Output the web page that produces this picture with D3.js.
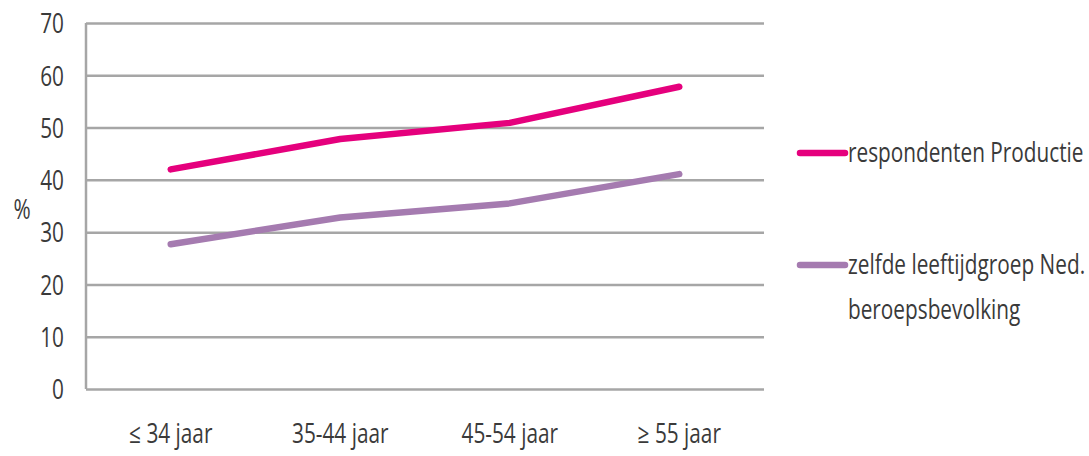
<!DOCTYPE html>
<html>
<head>
<meta charset="utf-8">
<script src="https://cdn.jsdelivr.net/npm/d3@7"></script>
<style>
  body { margin: 0; background: #fff; }
  svg text { font-family: "Open Sans", sans-serif; fill: #3a3a3a; }
</style>
</head>
<body>
<div id="chart"></div>
<script>
// data
const categories = ['\u2264 34 jaar', '35-44 jaar', '45-54 jaar', '\u2265 55 jaar'];
const productie = [42, 47.8, 50.9, 57.8];
const beroeps = [27.7, 32.8, 35.5, 41.1];
const yTicks = [0, 10, 20, 30, 40, 50, 60, 70];
const seriesNames = ['respondenten Productie', 'zelfde leeftijdgroep Ned.|beroepsbevolking'];

const width = 1089, height = 456;
const margin = {top: 23, right: 325, bottom: 67, left: 86};
const plotW = width - margin.left - margin.right;
const plotH = height - margin.top - margin.bottom;
const fontSize = 27;
const squeezeX = 0.77;

// narrow the glyphs around their anchor point (reference uses a condensed face)
function squeeze(sel) {
  sel.each(function() {
    const t = d3.select(this);
    const x = +t.attr('x') || 0, y = +t.attr('y') || 0;
    t.attr('transform', `translate(${x},${y}) scale(${squeezeX},1) translate(${-x},${-y})`);
  });
}

const svg = d3.select('#chart').append('svg')
  .attr('width', width)
  .attr('height', height);

const mainG = svg.append('g')
  .attr('transform', `translate(${margin.left},${margin.top})`);

// scales
const yScale = d3.scaleLinear().domain([0, 70]).range([plotH, 0]);
const xScale = d3.scaleBand().domain(categories).range([0, plotW]);
const xMid = d => xScale(d) + xScale.bandwidth() / 2;

// grid + y labels
const yAxis = d3.axisLeft(yScale).tickValues(yTicks).tickSize(-plotW).tickPadding(22);
const yG = mainG.append('g').call(yAxis);
yG.select('.domain').remove();
yG.selectAll('line').attr('stroke', '#a6a6a6').attr('stroke-width', 2.5);
yG.selectAll('text').attr('font-size', fontSize).attr('dy', '0.36em').call(squeeze);

// left axis line
mainG.append('line')
  .attr('x1', 0).attr('x2', 0).attr('y1', 0).attr('y2', plotH)
  .attr('stroke', '#a6a6a6').attr('stroke-width', 2.5);

// x labels
const xAxis = d3.axisBottom(xScale).tickSize(0).tickPadding(35);
const xG = mainG.append('g').attr('transform', `translate(0,${plotH})`).call(xAxis);
xG.select('.domain').remove();
xG.selectAll('text').attr('font-size', fontSize).call(squeeze);

// y title
svg.append('text')
  .attr('x', 22).attr('y', 219)
  .attr('text-anchor', 'middle')
  .attr('font-size', fontSize)
  .text('%')
  .call(squeeze);

// lines
const series = [
  {values: productie, color: '#e5007d'},
  {values: beroeps, color: '#a57bb0'}
];
const line = d3.line()
  .x((d, i) => xMid(categories[i]))
  .y(d => yScale(d));

mainG.selectAll('path.series')
  .data(series)
  .enter()
  .append('path')
  .attr('class', 'series')
  .attr('d', d => line(d.values))
  .attr('fill', 'none')
  .attr('stroke', d => d.color)
  .attr('stroke-width', 6.5)
  .attr('stroke-linecap', 'round')
  .attr('stroke-linejoin', 'round');

// legend
const legendY = [153, 265];
series.forEach((s, k) => {
  const g = svg.append('g').attr('transform', `translate(800,${legendY[k]})`);
  g.append('line')
    .attr('x1', 0).attr('x2', 45)
    .attr('stroke', s.color).attr('stroke-width', 6.5)
    .attr('stroke-linecap', 'round');
  seriesNames[k].split('|').forEach((p, j) => {
    g.append('text')
      .attr('x', 48).attr('y', 9 + j * 45)
      .attr('font-size', fontSize)
      .text(p)
      .call(squeeze);
  });
});
</script>
</body>
</html>
